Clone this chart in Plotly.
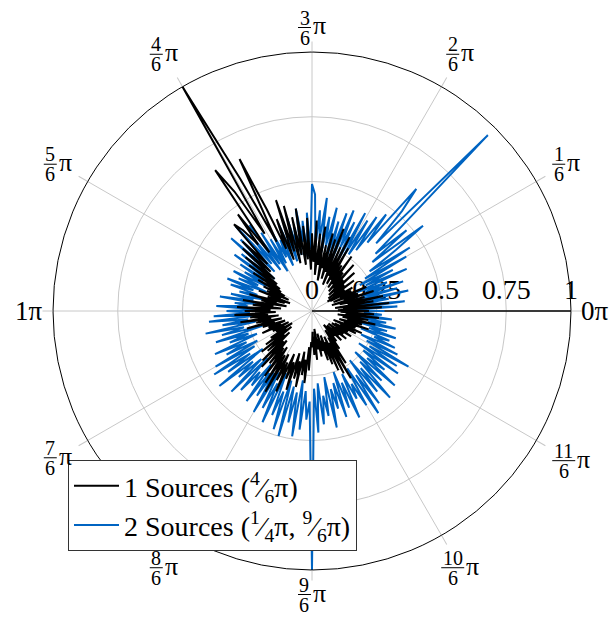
import math
import plotly.graph_objects as go

# ---------------- data ----------------
STEP_DEG = 1.5  # angular sampling of the spectra (degrees)

# 1 source at 4/6 pi  (black)
R_ONE_SOURCE = [
    0.22, 0.10, 0.27, 0.12, 0.30, 0.09, 0.24, 0.14, 0.28, 0.11, 0.21, 0.08, 0.25, 0.13, 0.19, 0.09, 0.23, 0.12, 0.17, 0.08,
    0.18, 0.07, 0.15, 0.10, 0.20, 0.08, 0.16, 0.11, 0.22, 0.09, 0.17, 0.12, 0.24, 0.10, 0.19, 0.13, 0.26, 0.11, 0.21, 0.14,
    0.28, 0.12, 0.32, 0.15, 0.27, 0.11, 0.34, 0.16, 0.29, 0.13, 0.31, 0.17, 0.26, 0.12, 0.33, 0.18, 0.30, 0.14, 0.35, 0.19,
    0.30, 0.16, 0.36, 0.20, 0.33, 0.18, 0.40, 0.22, 0.37, 0.19, 0.42, 0.24, 0.45, 0.21, 0.38, 0.26, 0.43, 0.65, 0.30, 0.58,
    1.00, 0.35, 0.55, 0.66, 0.28, 0.47, 0.33, 0.41, 0.45, 0.25, 0.38, 0.22, 0.36, 0.19, 0.33, 0.17, 0.30, 0.15, 0.27, 0.14,
    0.24, 0.12, 0.21, 0.10, 0.19, 0.13, 0.22, 0.09, 0.18, 0.11, 0.25, 0.14, 0.20, 0.10, 0.27, 0.15, 0.23, 0.12, 0.29, 0.16,
    0.26, 0.14, 0.30, 0.17, 0.24, 0.13, 0.28, 0.16, 0.22, 0.12, 0.26, 0.15, 0.20, 0.11, 0.18, 0.13, 0.21, 0.10, 0.17, 0.12,
    0.16, 0.09, 0.19, 0.12, 0.22, 0.10, 0.25, 0.14, 0.23, 0.12, 0.27, 0.16, 0.29, 0.15, 0.26, 0.18, 0.31, 0.17, 0.33, 0.20,
    0.36, 0.19, 0.30, 0.22, 0.34, 0.18, 0.28, 0.21, 0.32, 0.17, 0.27, 0.20, 0.30, 0.16, 0.25, 0.19, 0.28, 0.14, 0.23, 0.12,
    0.14, 0.08, 0.17, 0.10, 0.19, 0.07, 0.15, 0.11, 0.18, 0.09, 0.16, 0.12, 0.20, 0.10, 0.22, 0.13, 0.25, 0.11, 0.27, 0.14,
    0.30, 0.12, 0.24, 0.09, 0.18, 0.10, 0.15, 0.07, 0.13, 0.09, 0.16, 0.08, 0.14, 0.10, 0.17, 0.08, 0.15, 0.11, 0.18, 0.09,
    0.16, 0.10, 0.19, 0.12, 0.21, 0.09, 0.18, 0.13, 0.23, 0.11, 0.20, 0.14, 0.25, 0.12, 0.22, 0.10, 0.26, 0.13, 0.24, 0.11,
]

# 2 sources at 1/4 pi and 9/6 pi  (blue)
R_TWO_SOURCES = [
    0.28, 0.16, 0.33, 0.19, 0.36, 0.17, 0.30, 0.21, 0.38, 0.18, 0.34, 0.20, 0.37, 0.22, 0.31, 0.19, 0.40, 0.23, 0.35, 0.21,
    0.42, 0.24, 0.45, 0.27, 0.40, 0.54, 0.30, 0.48, 0.33, 0.50, 0.96, 0.36, 0.52, 0.62, 0.34, 0.47, 0.29, 0.44, 0.26, 0.41,
    0.25, 0.43, 0.22, 0.38, 0.27, 0.42, 0.21, 0.40, 0.24, 0.36, 0.20, 0.41, 0.26, 0.37, 0.23, 0.44, 0.28, 0.39, 0.25, 0.45,
    0.49, 0.24, 0.38, 0.21, 0.35, 0.27, 0.40, 0.22, 0.33, 0.26, 0.37, 0.20, 0.31, 0.25, 0.36, 0.19, 0.30, 0.23, 0.34, 0.21,
    0.32, 0.18, 0.36, 0.22, 0.41, 0.20, 0.38, 0.24, 0.44, 0.21, 0.39, 0.25, 0.42, 0.19, 0.35, 0.23, 0.37, 0.18, 0.33, 0.22,
    0.30, 0.20, 0.34, 0.23, 0.31, 0.19, 0.35, 0.24, 0.33, 0.22, 0.29, 0.18, 0.32, 0.23, 0.36, 0.21, 0.30, 0.25, 0.37, 0.22,
    0.33, 0.24, 0.38, 0.21, 0.40, 0.25, 0.35, 0.22, 0.42, 0.27, 0.36, 0.20, 0.39, 0.26, 0.34, 0.23, 0.41, 0.28, 0.37, 0.24,
    0.43, 0.26, 0.45, 0.29, 0.40, 0.24, 0.46, 0.30, 0.38, 0.27, 0.44, 0.25, 0.41, 0.31, 0.37, 0.26, 0.43, 0.29, 0.39, 0.28,
    0.45, 0.27, 0.42, 0.31, 0.47, 0.26, 0.43, 0.33, 0.48, 0.28, 0.50, 0.30, 0.44, 0.32, 0.49, 0.27, 0.46, 0.31, 0.42, 0.35,
    1.00, 0.30, 0.47, 0.28, 0.44, 0.33, 0.41, 0.26, 0.46, 0.31, 0.39, 0.29, 0.43, 0.25, 0.40, 0.30, 0.45, 0.27, 0.38, 0.32,
    0.42, 0.26, 0.47, 0.30, 0.44, 0.24, 0.40, 0.29, 0.45, 0.27, 0.38, 0.23, 0.43, 0.28, 0.36, 0.25, 0.41, 0.22, 0.39, 0.26,
    0.43, 0.24, 0.37, 0.21, 0.35, 0.26, 0.32, 0.20, 0.34, 0.23, 0.30, 0.19, 0.33, 0.22, 0.29, 0.18, 0.31, 0.21, 0.27, 0.20,
]

THETA = [i * STEP_DEG for i in range(len(R_ONE_SOURCE))]

SERIES_NAMES = [
    "1 Sources (<sup>4</sup>⁄<sub>6</sub>π)",
    "2 Sources (<sup>1</sup>⁄<sub>4</sub>π, <sup>9</sup>⁄<sub>6</sub>π)",
]

ANGLE_TICKS = [0, 30, 60, 90, 120, 150, 180, 210, 240, 270, 300, 330]
ANGLE_NUMERATORS = [0, 1, 2, 3, 4, 5, 6, 7, 8, 9, 10, 11]
ANGLE_DENOM = 6

RADIAL_TICKS = [0, 0.25, 0.5, 0.75, 1]
RADIAL_LABELS = ["0", "0.25", "0.5", "0.75", "1"]

# ---------------- style / geometry ----------------
W, H = 611, 624
CX, CY, RPX = 312, 311, 259
FONT = "Liberation Serif"
BLUE = "#0064C2"
GRID = "#c8c8c8"

fig = go.Figure()
fig.add_trace(go.Scatterpolar(
    r=R_TWO_SOURCES, theta=THETA, mode="lines", name=SERIES_NAMES[1],
    line=dict(color=BLUE, width=2), legendrank=2))
fig.add_trace(go.Scatterpolar(
    r=R_ONE_SOURCE, theta=THETA, mode="lines", name=SERIES_NAMES[0],
    line=dict(color="black", width=2), legendrank=1))

fig.update_layout(
    width=W, height=H,
    margin=dict(l=0, r=0, t=0, b=0),
    paper_bgcolor="white",
    font=dict(family=FONT, color="black"),
    polar=dict(
        domain=dict(x=[(CX - RPX) / W, (CX + RPX) / W],
                    y=[1 - (CY + RPX) / H, 1 - (CY - RPX) / H]),
        bgcolor="white",
        angularaxis=dict(
            direction="counterclockwise", rotation=0,
            tickmode="array", tickvals=ANGLE_TICKS, showticklabels=False,
            ticks="outside", ticklen=10, tickcolor=GRID, tickwidth=1,
            showline=True, linecolor="black", linewidth=1,
            showgrid=True, gridcolor=GRID, gridwidth=1,
        ),
        radialaxis=dict(
            range=[0, 1], angle=0, tickangle=0, side="counterclockwise",
            tickmode="array", tickvals=RADIAL_TICKS, ticktext=RADIAL_LABELS,
            ticks="", showline=True, linecolor="black", linewidth=1.5,
            showgrid=True, gridcolor=GRID, gridwidth=1,
            layer="below traces",
            tickfont=dict(family=FONT, size=28, color="black"),
        ),
    ),
    legend=dict(
        x=68 / W, y=1 - 551 / H, xanchor="left", yanchor="bottom",
        bgcolor="white", bordercolor="#333333", borderwidth=1,
        font=dict(family=FONT, size=28, color="black"),
        itemwidth=45,
    ),
    showlegend=True,
)

# ---------------- angular tick labels (stacked fractions) ----------------
def px2paper(x, y):
    return x / W, 1 - y / H

R0 = 267
DIAG = 12
FS_NUM, FS_PI, FS_BIG = 20, 26, 27
DIG_W, PI_W = 10, 14
annotations, shapes = [], []
for deg, n in zip(ANGLE_TICKS, ANGLE_NUMERATORS):
    th = math.radians(deg)
    ux, uy = math.cos(th), -math.sin(th)
    plain = n % ANGLE_DENOM == 0
    if plain:
        w, h = 32, 18
    else:
        halfbar = len(str(n)) * DIG_W / 2 + 1.5
        w, h = 2 * halfbar + 1 + PI_W, 33
    cands = []
    if abs(ux) > 1e-9:
        cands.append((w / 2) / abs(ux))
    if abs(uy) > 1e-9:
        cands.append((h / 2) / abs(uy))
    t = min(cands) + DIAG * abs(math.sin(2 * th))
    cx = CX + (R0 + t) * ux
    cy = CY + (R0 + t) * uy
    if plain:
        x, y = px2paper(cx, cy)
        annotations.append(dict(x=x, y=y, xref="paper", yref="paper", showarrow=False,
                                text=f"{n // ANGLE_DENOM}π", xanchor="center", yanchor="middle",
                                font=dict(family=FONT, size=FS_BIG, color="black")))
        continue
    xb = cx - w / 2 + halfbar
    yb = cy
    for txt, dy in ((str(n), -10), (str(ANGLE_DENOM), 10)):
        x, y = px2paper(xb, yb + dy)
        annotations.append(dict(x=x, y=y, xref="paper", yref="paper", showarrow=False,
                                text=txt, xanchor="center", yanchor="middle",
                                font=dict(family=FONT, size=FS_NUM, color="black")))
    x0, y0 = px2paper(xb - halfbar, yb)
    x1, _ = px2paper(xb + halfbar, yb)
    shapes.append(dict(type="line", xref="paper", yref="paper", x0=x0, x1=x1, y0=y0, y1=y0,
                       line=dict(color="black", width=1)))
    x, y = px2paper(xb + halfbar, yb - 1.5)
    annotations.append(dict(x=x, y=y, xref="paper", yref="paper", showarrow=False,
                            text="π", xanchor="left", yanchor="middle",
                            font=dict(family=FONT, size=FS_PI, color="black")))

fig.update_layout(annotations=annotations, shapes=shapes)
fig.write_html("out.html")
